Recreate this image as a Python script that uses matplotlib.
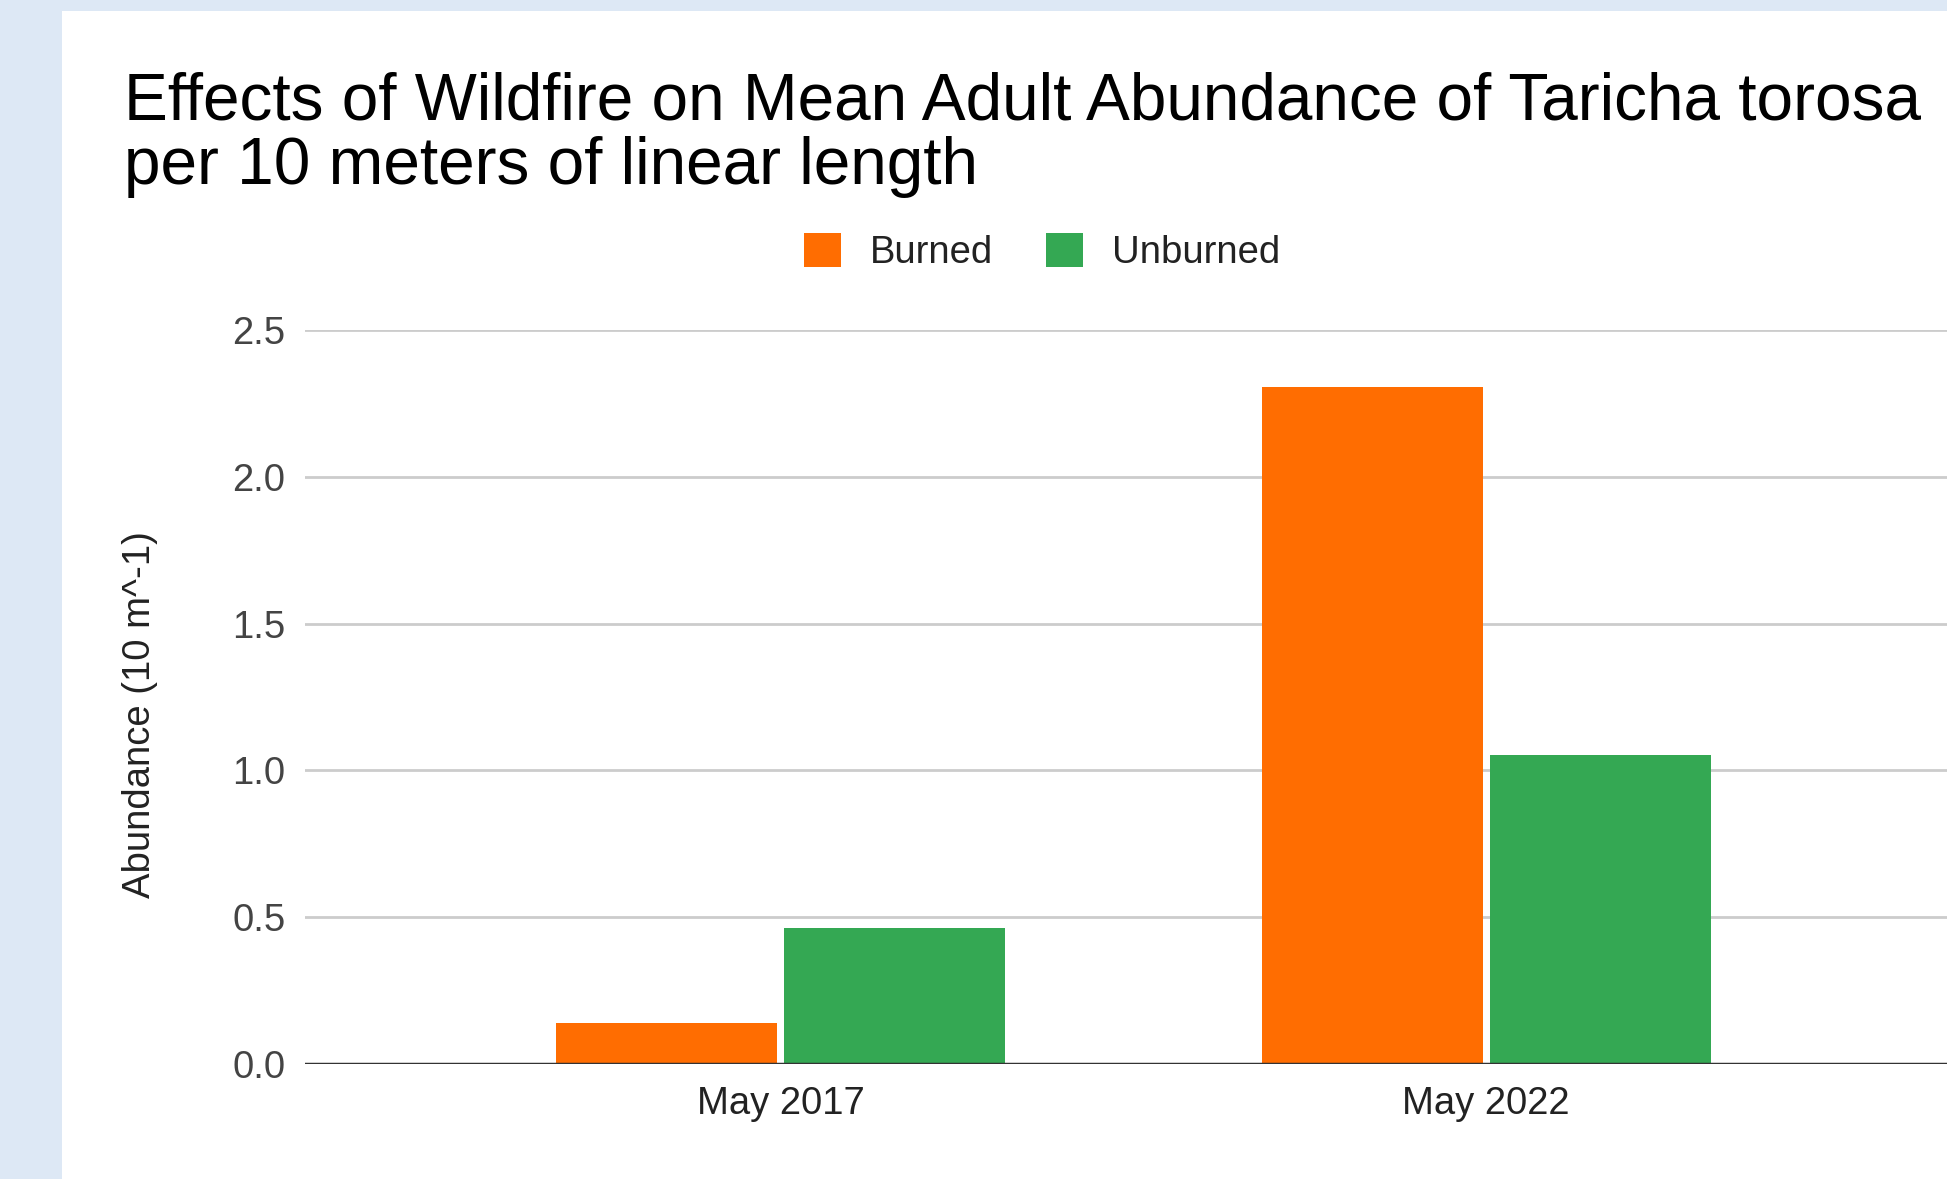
import numpy as np
import matplotlib
matplotlib.use('Agg')
import matplotlib.pyplot as plt
from matplotlib.patches import Rectangle, Patch

plt.rcParams['font.family'] = ['Liberation Sans', 'DejaVu Sans']

# data
categories = ['May 2017', 'May 2022']
series = ['Burned', 'Unburned']
burned = [0.14, 2.305]
unburned = [0.462, 1.053]
yticks = [0.0, 0.5, 1.0, 1.5, 2.0, 2.5]

orange = '#ff6d01'
green = '#34a853'

W, H = 1947, 1179
fig = plt.figure(figsize=(W / 100, H / 100), dpi=100)
fig.patch.set_facecolor('#dde8f5')

# white card behind the chart
fig.patches.append(Rectangle((62 / W, 0), 1, 1 - 11 / H, transform=fig.transFigure,
                             facecolor='white', edgecolor='none', zorder=-5))

ax = fig.add_axes([305 / W, 115 / H, 1 - 305 / W, (1064 - 330) / H])
ax.set_facecolor('none')
ax.set_zorder(2)

x = np.arange(len(categories))
bw = 0.313
off = 0.1615
ax.bar(x - off, burned, width=bw, color=orange, zorder=3, label=series[0])
ax.bar(x + off, unburned, width=bw, color=green, zorder=3, label=series[1])

ax.set_xlim(-0.674, 1.653)
ax.set_ylim(0, 2.5)
ax.set_yticks(yticks)
ax.set_yticklabels([f'{v:.1f}' for v in yticks])
ax.set_xticks(x)
ax.set_xticklabels(categories)

ax.grid(axis='y', color='#cccccc', linewidth=2, zorder=1)
ax.axhline(0, color='#333333', linewidth=2.5, zorder=4)
for s in ax.spines.values():
    s.set_visible(False)
ax.tick_params(axis='both', length=0, labelsize=27.5, labelcolor='#444444')
ax.tick_params(axis='y', pad=14)
ax.tick_params(axis='x', pad=16)
for t in ax.get_xticklabels():
    t.set_color('#222222')

# title, two lines
fig.text(124 / W, 1 - 120 / H, 'Effects of Wildfire on Mean Adult Abundance of Taricha torosa',
         fontsize=47.3, color='black', ha='left', va='baseline')
fig.text(124 / W, 1 - 184 / H, 'per 10 meters of linear length',
         fontsize=47.3, color='black', ha='left', va='baseline')

# y axis title
fig.text(140 / W, 1 - 715 / H, 'Abundance (10 m^-1)', rotation=90, fontsize=27.5,
         color='#222222', ha='center', va='center')

handles = [Patch(facecolor=orange, edgecolor='none'), Patch(facecolor=green, edgecolor='none')]
fig.legend(handles, series, loc='center', bbox_to_anchor=(1042 / W, 1 - 252 / H), ncol=2,
           frameon=False, fontsize=27.5, handlelength=0.97, handleheight=0.97,
           handletextpad=0.75, columnspacing=1.4, labelcolor='#222222')

fig.savefig('out.png', dpi=100)
